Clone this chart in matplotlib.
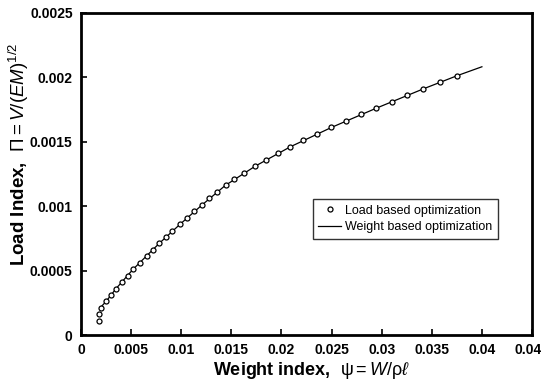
import matplotlib
matplotlib.use("Agg")
import matplotlib.pyplot as plt

plt.rcParams['font.family'] = ['Liberation Sans', 'DejaVu Sans']
plt.rcParams['mathtext.fontset'] = 'custom'
plt.rcParams['mathtext.rm'] = 'Liberation Sans'
plt.rcParams['mathtext.it'] = 'Liberation Sans:italic'
plt.rcParams['mathtext.bf'] = 'Liberation Sans:bold'

# load based optimization (open circles)
load_psi = [0.0018, 0.0018, 0.00197, 0.0025, 0.0030, 0.0035, 0.0041, 0.00466,
            0.00522, 0.00589, 0.00656, 0.00716, 0.00781, 0.00848, 0.00913,
            0.00988, 0.01055, 0.01131, 0.01208, 0.0128, 0.0136, 0.01442,
            0.01524, 0.01624, 0.01737, 0.01846, 0.01963, 0.02089, 0.02213,
            0.02352, 0.02498, 0.02645, 0.02791, 0.02944, 0.03101, 0.03257,
            0.03416, 0.03583, 0.0375]
load_pi = [0.00011, 0.00016, 0.00021, 0.00026, 0.00031, 0.00036, 0.00041,
           0.00046, 0.00051, 0.00056, 0.00061, 0.00066, 0.00071, 0.00076,
           0.00081, 0.00086, 0.00091, 0.00096, 0.00101, 0.00106, 0.00111,
           0.00116, 0.00121, 0.00126, 0.00131, 0.00136, 0.00141, 0.00146,
           0.00151, 0.00156, 0.00161, 0.00166, 0.00171, 0.00176, 0.00181,
           0.00186, 0.00191, 0.00196, 0.00201]

# weight based optimization (line)
weight_psi = [0.0019, 0.0025, 0.0035, 0.0052, 0.0078, 0.0099, 0.0121, 0.0144,
              0.0174, 0.0209, 0.0250, 0.0295, 0.0342, 0.0375, 0.0400]
weight_pi = [0.00021, 0.00026, 0.00036, 0.00051, 0.00071, 0.00086, 0.00101,
             0.00116, 0.00131, 0.00146, 0.00161, 0.00176, 0.00191, 0.00201,
             0.00208]

xticks = [0, 0.005, 0.01, 0.015, 0.02, 0.025, 0.03, 0.035, 0.04, 0.045]
xlabels = ["0", "0.005", "0.01", "0.015", "0.02", "0.025", "0.03", "0.035", "0.04", "0.045"]
yticks = [0, 0.0005, 0.001, 0.0015, 0.002, 0.0025]
ylabels = ["0", "0.0005", "0.001", "0.0015", "0.002", "0.0025"]

fig = plt.figure(figsize=(5.41, 3.82), dpi=100)
ax = fig.add_axes([0.1497, 0.123, 0.8337, 0.844])

ax.plot(load_psi, load_pi, linestyle='none', marker='o', markersize=3.6,
        markerfacecolor='white', markeredgecolor='black', markeredgewidth=0.9,
        label='Load based optimization', zorder=3)
ax.plot(weight_psi, weight_pi, color='black', linewidth=0.9,
        label='Weight based optimization', zorder=2)

ax.set_xlim(0, 0.045)
ax.set_ylim(0, 0.0025)
ax.set_xticks(xticks)
ax.set_xticklabels(xlabels)
ax.set_yticks(yticks)
ax.set_yticklabels(ylabels)
ax.tick_params(direction='in', length=4, width=1.2, labelsize=10)
ax.tick_params(axis='x', pad=6)
ax.tick_params(axis='y', pad=6)
for lab in ax.get_xticklabels() + ax.get_yticklabels():
    lab.set_fontweight('bold')
for sp in ax.spines.values():
    sp.set_linewidth(2)

ax.set_xlabel(r"Weight index,  $\mathrm{\psi}=\mathit{W}/\mathrm{\rho}\ell$",
              fontsize=13, fontweight='bold')
ax.xaxis.set_label_coords(0.51, -0.078)
ax.set_ylabel(r"Load Index,  $\Pi = \mathit{V/(EM)}^{1/2}$",
              fontsize=13.5, fontweight='bold')
ax.yaxis.set_label_coords(-0.11, 0.56)

leg = ax.legend(loc='upper left', bbox_to_anchor=(0.514, 0.422), fontsize=9,
                frameon=True, fancybox=False, handlelength=1.8,
                handletextpad=0.3, borderpad=0.45, labelspacing=0.35,
                borderaxespad=0)
leg.get_frame().set_edgecolor('black')
leg.get_frame().set_linewidth(1.0)

fig.savefig("out.png", dpi=100)
